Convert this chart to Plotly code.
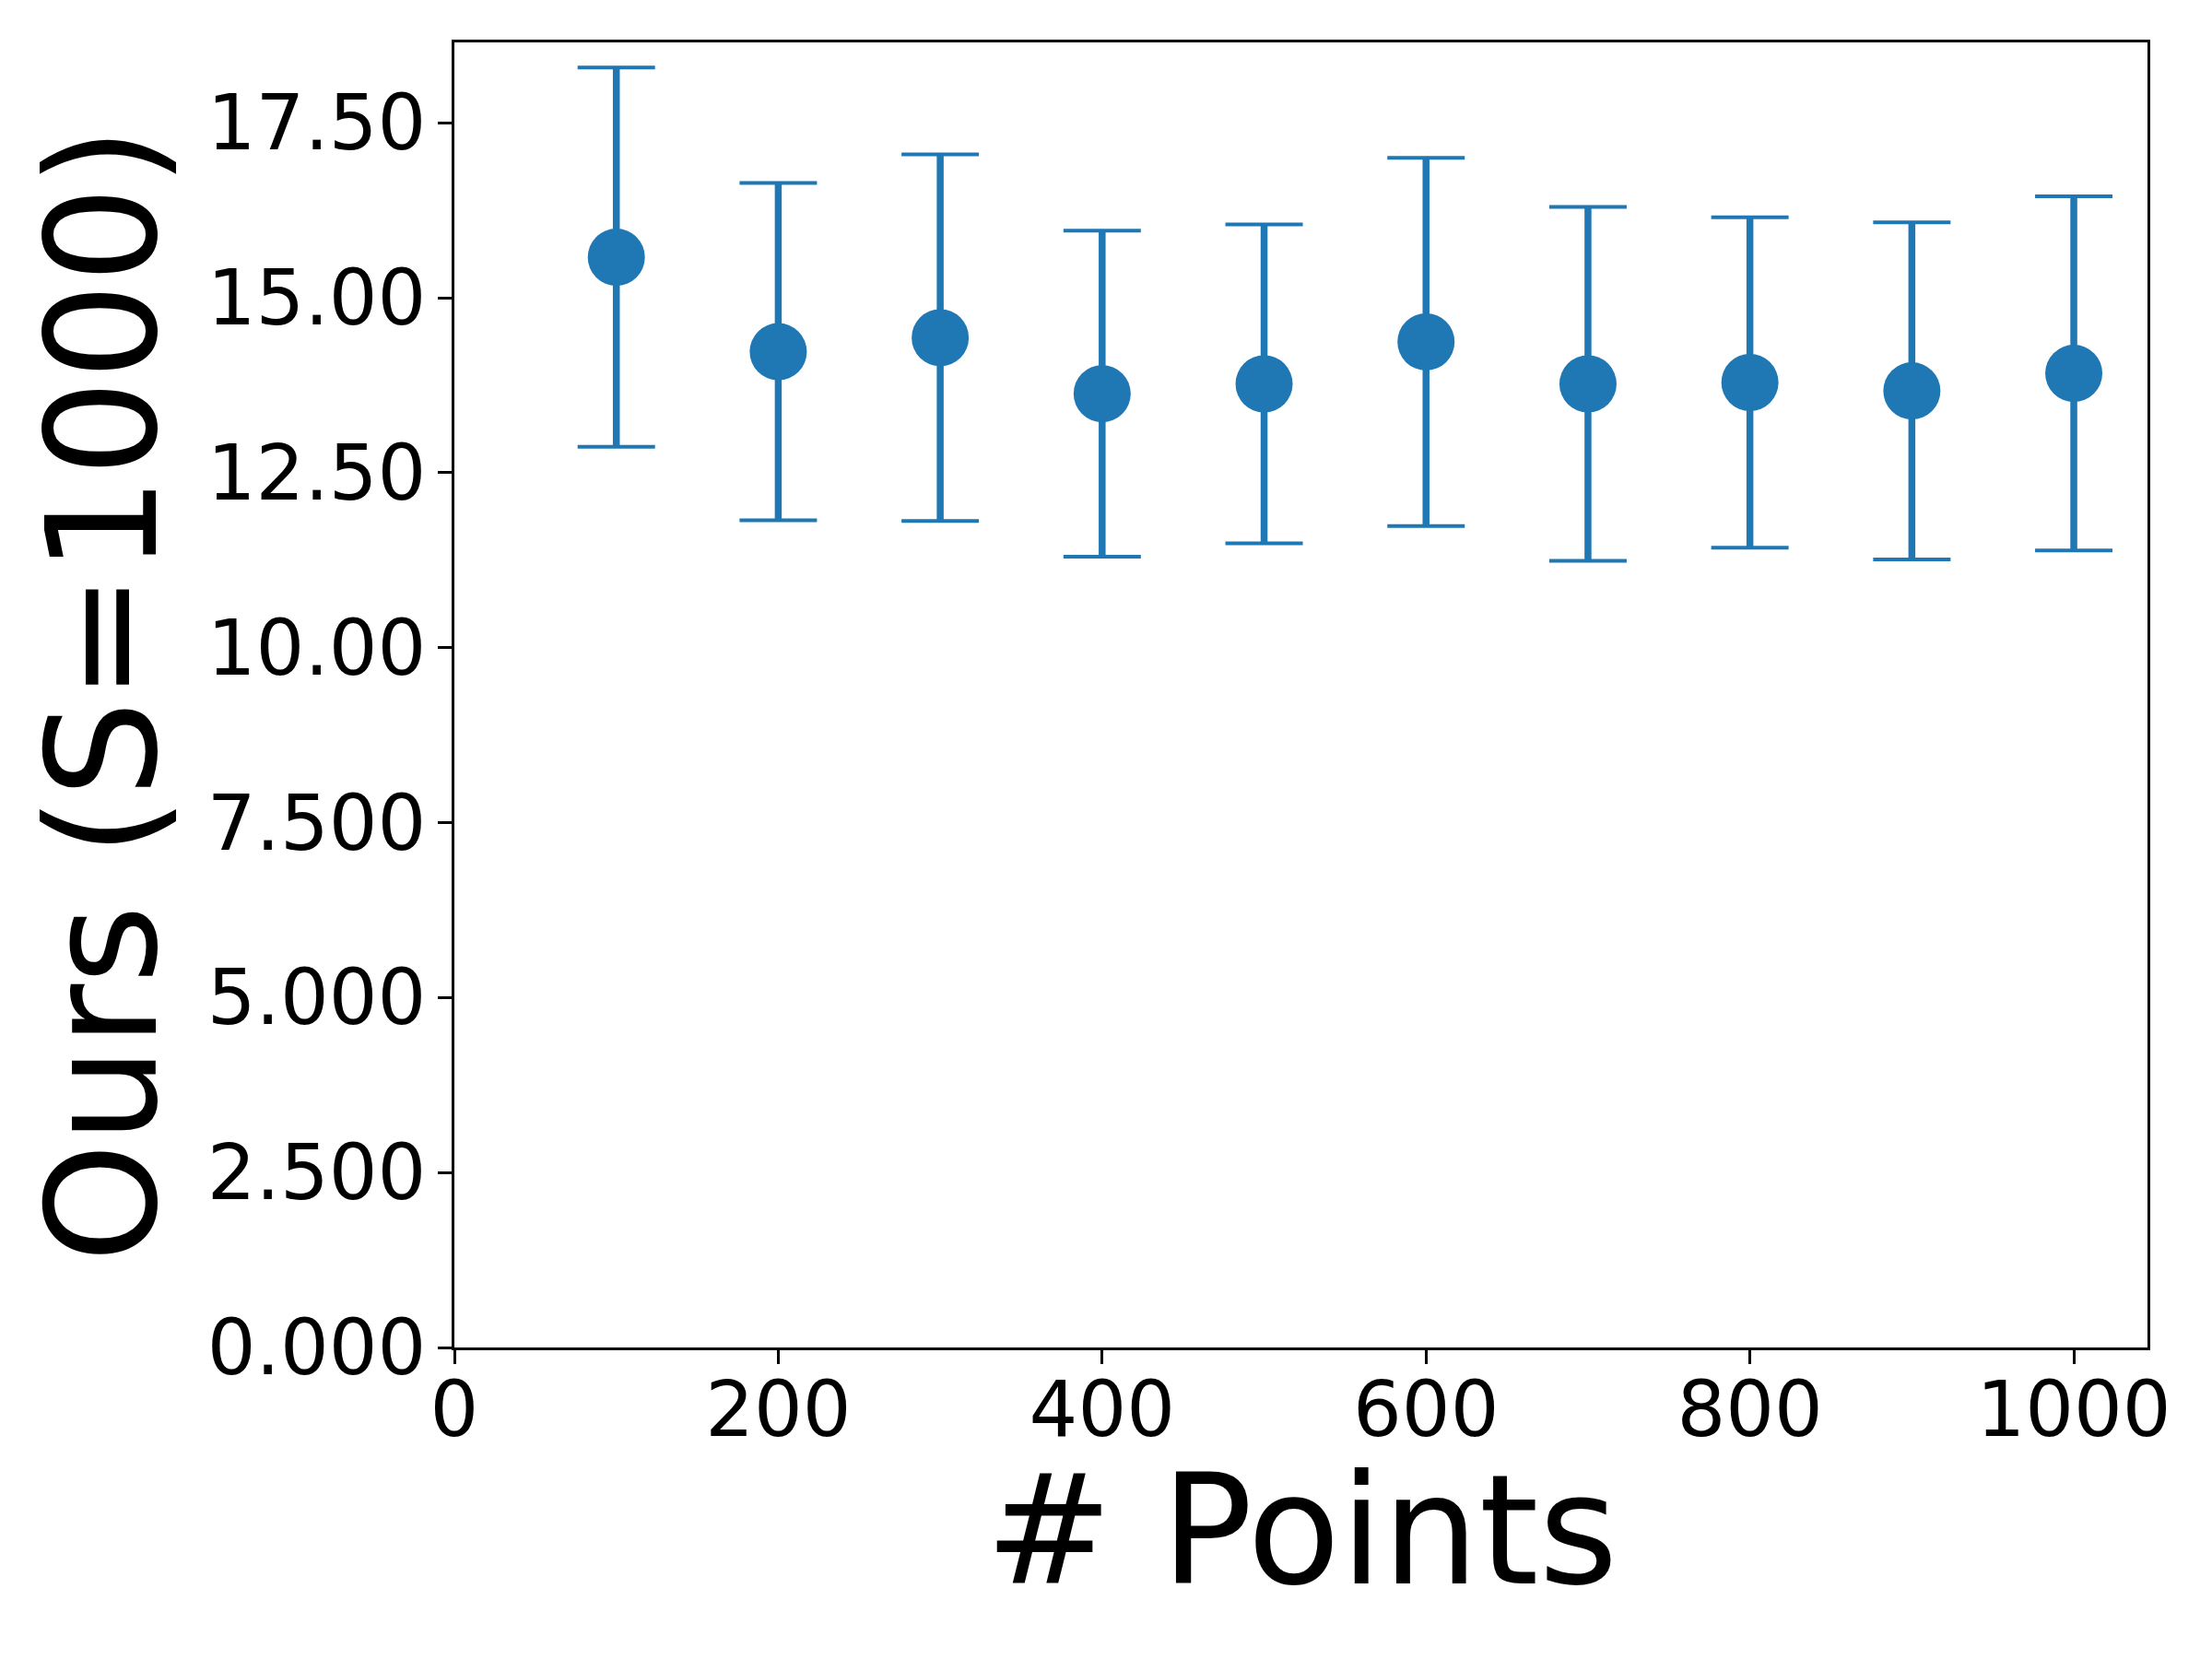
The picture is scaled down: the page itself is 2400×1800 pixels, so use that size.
import plotly.graph_objects as go

# Data
num_points = [100, 200, 300, 400, 500, 600, 700, 800, 900, 1000]
mean_vals = [15.58, 14.23, 14.43, 13.63, 13.77, 14.37, 13.77, 13.79, 13.67, 13.92]
err_vals = [2.71, 2.41, 2.62, 2.33, 2.28, 2.63, 2.53, 2.36, 2.41, 2.53]

x_ticks = [0, 200, 400, 600, 800, 1000]
y_ticks = [0, 2.5, 5.0, 7.5, 10.0, 12.5, 15.0, 17.5]
y_tick_labels = ["0.000", "2.500", "5.000", "7.500", "10.00", "12.50", "15.00", "17.50"]

color = "#1f77b4"
# page body has an 8px margin, so the figure is made slightly smaller
W, H = 2392, 1792
L, R, T, B = 485, 70, 38, 338

fig = go.Figure()
# caps (thin)
fig.add_trace(go.Scatter(
    x=num_points, y=mean_vals, mode="markers",
    marker=dict(size=1, color="rgba(0,0,0,0)"),
    error_y=dict(type="data", array=err_vals, visible=True, color=color,
                 thickness=4, width=42),
    showlegend=False, hoverinfo="skip"))
# vertical bars + markers
fig.add_trace(go.Scatter(
    x=num_points, y=mean_vals, mode="markers",
    marker=dict(size=62, color=color, line=dict(width=0)),
    error_y=dict(type="data", array=err_vals, visible=True, color=color,
                 thickness=7.5, width=0),
    showlegend=False))

axis_common = dict(
    showline=True, linewidth=3, linecolor="black", mirror=True,
    showgrid=False, zeroline=False,
    ticks="outside", ticklen=15, tickwidth=3, tickcolor="black",
    tickfont=dict(family="DejaVu Sans", size=83, color="black"),
)

fig.update_xaxes(range=[0, 1045.5], tickmode="array", tickvals=x_ticks,
                 ticktext=[str(v) for v in x_ticks], ticklabelstandoff=-22,
                 **axis_common)
fig.update_yaxes(range=[0, 18.65], tickmode="array", tickvals=y_ticks,
                 ticktext=y_tick_labels, ticklabelstandoff=-4, **axis_common)

fig.update_layout(
    width=W, height=H,
    margin=dict(l=L, r=R, t=T, b=B, pad=0),
    paper_bgcolor="white", plot_bgcolor="white",
    font=dict(family="DejaVu Sans", color="black"),
    annotations=[
        dict(text="# Points", xref="paper", yref="paper", x=0.5, y=0,
             xanchor="center", yanchor="middle", yshift=-199, showarrow=False,
             font=dict(family="DejaVu Sans", size=165, color="black")),
        dict(text="Ours (S=1000)", xref="paper", yref="paper", x=0, y=0.5,
             xanchor="center", yanchor="middle", xshift=-381, showarrow=False,
             textangle=-90,
             font=dict(family="DejaVu Sans", size=165, color="black")),
    ],
)

fig.write_html("out.html")
